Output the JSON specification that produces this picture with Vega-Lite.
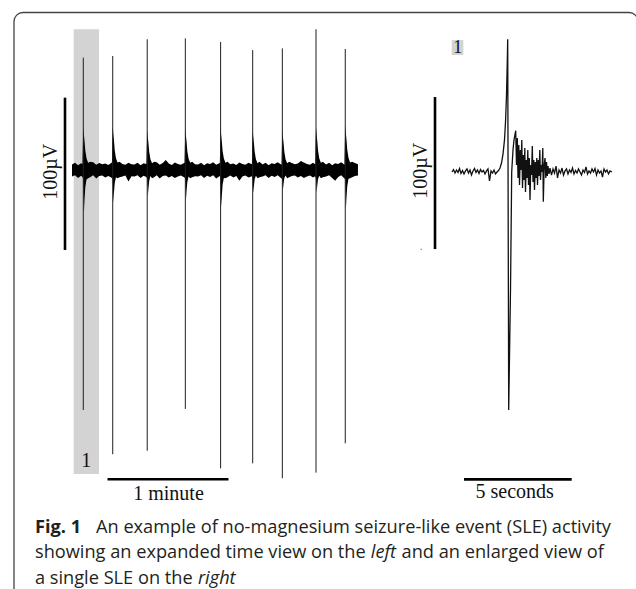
{
  "$schema": "https://vega.github.io/schema/vega-lite/v6.json",
  "width": 636,
  "height": 589,
  "autosize": {"type": "none"},
  "padding": 0,
  "background": "white",
  "config": {"view": {"stroke": null}},
  "datasets": {
    "leftEnvelope": [
      {"t":0,"lo":-4.2,"hi":3.6},{"t":1.5,"lo":-3.5,"hi":4.8},{"t":3,"lo":-5.2,"hi":3.2},{"t":4.5,"lo":-3.8,"hi":4.4},{"t":5.2,"lo":-4.6,"hi":3.9},
      {"t":5.6,"lo":-6,"hi":28.5},{"t":5.9,"lo":-28.3,"hi":23.4},{"t":6.2,"lo":-19.8,"hi":19.4},{"t":6.6,"lo":-11.3,"hi":12.8},{"t":7.2,"lo":-6.2,"hi":7.7},{"t":8.0,"lo":-5.5,"hi":4.8},{"t":9.0,"lo":-4.8,"hi":5.5},
      {"t":10.5,"lo":-3.4,"hi":5.1},{"t":12,"lo":-5.6,"hi":3.4},{"t":13.5,"lo":-4.0,"hi":4.6},{"t":15,"lo":-3.6,"hi":3.8},{"t":16.5,"lo":-4.9,"hi":4.2},{"t":18,"lo":-3.9,"hi":3.3},{"t":19.8,"lo":-5.3,"hi":5.0},
      {"t":20.2,"lo":-6,"hi":28.9},{"t":20.5,"lo":-21.5,"hi":23.7},{"t":20.8,"lo":-15.1,"hi":19.7},{"t":21.2,"lo":-8.6,"hi":13.0},{"t":21.8,"lo":-4.7,"hi":7.8},{"t":22.6,"lo":-5.5,"hi":4.9},{"t":23.6,"lo":-4.8,"hi":5.5},
      {"t":25,"lo":-4.3,"hi":4.0},{"t":26.5,"lo":-3.7,"hi":3.5},{"t":28,"lo":-7.5,"hi":4.7},{"t":29.5,"lo":-4.1,"hi":3.7},{"t":31,"lo":-4.2,"hi":3.6},{"t":32.5,"lo":-3.5,"hi":4.8},{"t":34,"lo":-5.2,"hi":3.2},{"t":35.5,"lo":-3.8,"hi":4.4},{"t":36.9,"lo":-4.6,"hi":3.9},
      {"t":37.3,"lo":-6,"hi":26.3},{"t":37.6,"lo":-17.6,"hi":21.6},{"t":37.9,"lo":-12.3,"hi":17.9},{"t":38.3,"lo":-7.0,"hi":11.8},{"t":38.9,"lo":-3.9,"hi":7.1},{"t":39.7,"lo":-5.5,"hi":4.5},{"t":40.7,"lo":-4.8,"hi":5.5},
      {"t":42,"lo":-3.4,"hi":5.1},{"t":43.5,"lo":-5.6,"hi":3.4},{"t":45,"lo":-4.0,"hi":4.6},{"t":46.5,"lo":-3.6,"hi":6.5},{"t":48,"lo":-4.9,"hi":4.2},{"t":49.5,"lo":-3.9,"hi":3.3},{"t":51,"lo":-5.3,"hi":5.0},{"t":52.5,"lo":-4.3,"hi":4.0},{"t":54,"lo":-3.7,"hi":3.5},{"t":55.8,"lo":-5.0,"hi":4.7},
      {"t":56.2,"lo":-6,"hi":27.6},{"t":56.5,"lo":-19.7,"hi":22.6},{"t":56.8,"lo":-13.8,"hi":18.8},{"t":57.2,"lo":-7.9,"hi":12.4},{"t":57.8,"lo":-4.3,"hi":7.5},{"t":58.6,"lo":-5.5,"hi":4.7},{"t":59.6,"lo":-4.8,"hi":5.5},
      {"t":61,"lo":-4.1,"hi":3.7},{"t":62.5,"lo":-4.2,"hi":3.6},{"t":64,"lo":-3.5,"hi":4.8},{"t":65.5,"lo":-5.2,"hi":3.2},{"t":67,"lo":-3.8,"hi":4.4},{"t":68.5,"lo":-4.6,"hi":3.9},{"t":70,"lo":-3.4,"hi":5.1},{"t":71.5,"lo":-5.6,"hi":3.4},{"t":73.3,"lo":-4.0,"hi":4.6},
      {"t":73.7,"lo":-6,"hi":27.6},{"t":74.0,"lo":-24.1,"hi":22.6},{"t":74.3,"lo":-16.9,"hi":18.8},{"t":74.7,"lo":-9.6,"hi":12.4},{"t":75.3,"lo":-5.3,"hi":7.5},{"t":76.1,"lo":-5.5,"hi":4.7},{"t":77.1,"lo":-4.8,"hi":5.5},
      {"t":78.5,"lo":-3.6,"hi":3.8},{"t":80,"lo":-4.9,"hi":4.2},{"t":81.5,"lo":-3.9,"hi":3.3},{"t":83,"lo":-7.0,"hi":5.0},{"t":84.5,"lo":-4.3,"hi":4.0},{"t":86,"lo":-3.7,"hi":3.5},{"t":87.5,"lo":-5.0,"hi":4.7},{"t":89.2,"lo":-4.1,"hi":3.7},
      {"t":89.6,"lo":-6,"hi":26.3},{"t":89.9,"lo":-15.1,"hi":21.6},{"t":90.2,"lo":-10.6,"hi":17.9},{"t":90.6,"lo":-6.0,"hi":11.8},{"t":91.2,"lo":-3.8,"hi":7.1},{"t":92.0,"lo":-5.5,"hi":4.5},{"t":93.0,"lo":-4.8,"hi":5.5},
      {"t":94.5,"lo":-4.2,"hi":3.6},{"t":96,"lo":-3.5,"hi":4.8},{"t":97.5,"lo":-5.2,"hi":3.2},{"t":99,"lo":-3.8,"hi":4.4},{"t":100.5,"lo":-4.6,"hi":3.9},{"t":102,"lo":-3.4,"hi":5.1},{"t":103.9,"lo":-5.6,"hi":3.4},
      {"t":104.3,"lo":-6,"hi":26.3},{"t":104.6,"lo":-13.2,"hi":21.6},{"t":104.9,"lo":-9.2,"hi":17.9},{"t":105.3,"lo":-5.3,"hi":11.8},{"t":105.9,"lo":-3.6,"hi":7.1},{"t":106.7,"lo":-5.5,"hi":4.5},{"t":107.7,"lo":-4.8,"hi":5.5},
      {"t":109,"lo":-4.0,"hi":4.6},{"t":110.5,"lo":-3.6,"hi":3.8},{"t":112,"lo":-4.9,"hi":4.2},{"t":113.5,"lo":-3.9,"hi":6.0},{"t":115,"lo":-5.3,"hi":5.0},{"t":116.5,"lo":-4.3,"hi":4.0},{"t":118,"lo":-3.7,"hi":3.5},{"t":119.5,"lo":-5.0,"hi":4.7},{"t":120.6,"lo":-4.1,"hi":3.7},
      {"t":121.0,"lo":-6,"hi":28.5},{"t":121.3,"lo":-15.1,"hi":23.4},{"t":121.6,"lo":-10.6,"hi":19.4},{"t":122.0,"lo":-6.0,"hi":12.8},{"t":122.6,"lo":-3.8,"hi":7.7},{"t":123.4,"lo":-5.5,"hi":4.8},{"t":124.4,"lo":-4.8,"hi":5.5},
      {"t":126,"lo":-4.2,"hi":3.6},{"t":127.5,"lo":-3.5,"hi":4.8},{"t":129,"lo":-5.2,"hi":3.2},{"t":130.5,"lo":-7.0,"hi":4.4},{"t":132,"lo":-4.6,"hi":3.9},{"t":133.5,"lo":-3.4,"hi":5.1},{"t":135.1,"lo":-5.6,"hi":3.4},
      {"t":135.5,"lo":-6,"hi":29.6},{"t":135.8,"lo":-26.3,"hi":24.3},{"t":136.1,"lo":-18.4,"hi":20.1},{"t":136.5,"lo":-10.5,"hi":13.3},{"t":137.1,"lo":-5.8,"hi":8.0},{"t":137.9,"lo":-5.5,"hi":5.0},{"t":138.9,"lo":-4.8,"hi":5.5},
      {"t":140.3,"lo":-4.0,"hi":4.6},{"t":141.8,"lo":-3.6,"hi":3.8}
    ],
    "leftSpikes": [
      {"t":5.6,"top":73.9,"bot":-157.9},
      {"t":20.2,"top":75.0,"bot":-187.0},
      {"t":37.3,"top":86.0,"bot":-184.7},
      {"t":56.2,"top":86.6,"bot":-157.2},
      {"t":73.7,"top":84.2,"bot":-196.3},
      {"t":89.6,"top":78.9,"bot":-193.0},
      {"t":104.3,"top":80.0,"bot":-202.8},
      {"t":121.0,"top":92.6,"bot":-199.1},
      {"t":135.5,"top":79.6,"bot":-179.8}
    ],
    "leftHighlight": [{"t1":0.84,"t2":13.39,"v1":-200,"v2":92.6}],
    "leftBars": [
      {"t1":-3.47,"t2":-3.47,"v1":-52.6,"v2":47.6},
      {"t1":17.6,"t2":77.6,"v1":-203.5,"v2":-203.5}
    ],
    "leftLabels": [
      {"t":7.09,"v":-195.2,"label":"1"},
      {"t":47.85,"v":-217.1,"label":"1 minute"}
    ],
    "leftUnit": [{"t":-7.59,"v":-1.1,"label":"100µV"}],
    "rightTrace": [
      {"ts":0,"uvs":0},{"ts":0.0696,"uvs":1.6},{"ts":0.1393,"uvs":-0.7},{"ts":0.2089,"uvs":1.3},{"ts":0.2786,"uvs":-0.3},{"ts":0.3482,"uvs":2.3},{"ts":0.4178,"uvs":-1.0},{"ts":0.4875,"uvs":1.0},{"ts":0.5571,"uvs":-1.3},{"ts":0.6267,"uvs":0.7},{"ts":0.6964,"uvs":2.0},{"ts":0.766,"uvs":-0.7},{"ts":0.8357,"uvs":1.3},{"ts":0.9053,"uvs":-2.0},{"ts":0.9749,"uvs":0.7},{"ts":1.0446,"uvs":2.3},{"ts":1.1142,"uvs":-0.3},{"ts":1.1838,"uvs":1.3},{"ts":1.2535,"uvs":-1.0},{"ts":1.3231,"uvs":1.6},{"ts":1.3928,"uvs":0},{"ts":1.4624,"uvs":1.0},{"ts":1.532,"uvs":-1.3},{"ts":1.6017,"uvs":0.7},{"ts":1.6713,"uvs":2.0},{"ts":1.7409,"uvs":-5.9},{"ts":1.8106,"uvs":0.7},{"ts":1.8802,"uvs":-0.7},{"ts":1.9499,"uvs":1.3},{"ts":2.0195,"uvs":-1.3},{"ts":2.0891,"uvs":0},{"ts":2.1588,"uvs":1.0},
      {"ts":2.2284,"uvs":2.6},{"ts":2.2981,"uvs":5.9},{"ts":2.3677,"uvs":11.8},{"ts":2.4373,"uvs":21.1},{"ts":2.4838,"uvs":32.9},{"ts":2.5302,"uvs":50.7},{"ts":2.5627,"uvs":70.4},{"ts":2.5859,"uvs":87.3},
      {"ts":2.6323,"uvs":-156.6},{"ts":2.7159,"uvs":-77.6},{"ts":2.7716,"uvs":0},
      {"ts":2.8319,"uvs":14.5},{"ts":2.8784,"uvs":21.1},{"ts":2.9573,"uvs":27.2},{"ts":2.9944,"uvs":4.6},{"ts":3.0316,"uvs":22.4},{"ts":3.0641,"uvs":-3.9},{"ts":3.1012,"uvs":17.8},{"ts":3.1337,"uvs":-8.6},{"ts":3.1708,"uvs":14.5},{"ts":3.2033,"uvs":1.3},{"ts":3.2405,"uvs":21.1},{"ts":3.273,"uvs":-10.5},{"ts":3.3101,"uvs":11.2},{"ts":3.3426,"uvs":-5.3},{"ts":3.3798,"uvs":15.8},{"ts":3.4123,"uvs":-13.2},{"ts":3.4494,"uvs":7.9},{"ts":3.4819,"uvs":-3.9},{"ts":3.519,"uvs":14.5},{"ts":3.5515,"uvs":-8.6},{"ts":3.5887,"uvs":9.2},{"ts":3.6212,"uvs":-18.4},{"ts":3.6583,"uvs":4.6},{"ts":3.6908,"uvs":-2.0},{"ts":3.7279,"uvs":17.1},{"ts":3.7604,"uvs":-6.6},{"ts":3.7976,"uvs":7.9},{"ts":3.8301,"uvs":-11.8},{"ts":3.8672,"uvs":6.6},{"ts":3.8997,"uvs":-3.9},{"ts":3.9369,"uvs":9.2},{"ts":3.9694,"uvs":-8.6},{"ts":4.0065,"uvs":7.9},{"ts":4.039,"uvs":-2.6},{"ts":4.0761,"uvs":14.5},{"ts":4.1086,"uvs":-5.3},{"ts":4.1458,"uvs":4.6},{"ts":4.1783,"uvs":0},{"ts":4.2154,"uvs":15.8},{"ts":4.2386,"uvs":-19.5},{"ts":4.2804,"uvs":4.6},{"ts":4.3175,"uvs":9.2},{"ts":4.3547,"uvs":-3.9},{"ts":4.3872,"uvs":6.6},{"ts":4.4243,"uvs":-2.6},{"ts":4.4568,"uvs":3.9},{"ts":4.5032,"uvs":-1.3},
      {"ts":4.5497,"uvs":2.6},{"ts":4.6193,"uvs":-2.0},{"ts":4.689,"uvs":2.0},{"ts":4.7586,"uvs":-0.7},{"ts":4.8282,"uvs":3.9},{"ts":4.8979,"uvs":-3.9},{"ts":4.9675,"uvs":1.3},{"ts":5.0371,"uvs":-0.7},{"ts":5.1068,"uvs":2.6},{"ts":5.1764,"uvs":-2.0},{"ts":5.2461,"uvs":0.7},{"ts":5.3157,"uvs":2.0},{"ts":5.3853,"uvs":-1.3},{"ts":5.455,"uvs":1.3},{"ts":5.5246,"uvs":-0.3},{"ts":5.5942,"uvs":2.6},{"ts":5.6639,"uvs":-1.3},{"ts":5.7335,"uvs":1.0},{"ts":5.8032,"uvs":-0.7},{"ts":5.8728,"uvs":2.0},{"ts":5.9424,"uvs":0},{"ts":6.0121,"uvs":-2.0},{"ts":6.0817,"uvs":1.3},{"ts":6.1513,"uvs":-0.3},{"ts":6.221,"uvs":3.3},{"ts":6.2906,"uvs":-1.3},{"ts":6.3603,"uvs":0.7},{"ts":6.4299,"uvs":-0.7},{"ts":6.4995,"uvs":2.0},{"ts":6.5692,"uvs":0},{"ts":6.6388,"uvs":2.3},{"ts":6.7084,"uvs":-2.0},{"ts":6.7781,"uvs":1.3},{"ts":6.8477,"uvs":-0.7},{"ts":6.9174,"uvs":0.7},{"ts":6.987,"uvs":-3.3},{"ts":7.0566,"uvs":2.0},{"ts":7.1263,"uvs":0},{"ts":7.1959,"uvs":1.3},{"ts":7.2656,"uvs":-1.3},{"ts":7.3352,"uvs":0.7},{"ts":7.4281,"uvs":0}
    ],
    "rightBox": [{"ts1":-0.014,"ts2":0.525,"u1":77.0,"u2":86.8}],
    "rightBars": [
      {"ts1":-0.789,"ts2":-0.789,"u1":-50.7,"u2":49.3},
      {"ts1":0.557,"ts2":5.557,"u1":-202.2,"u2":-202.2}
    ],
    "rightLabels": [
      {"ts":2.911,"uvs":-214.8,"label":"5 seconds","size":20},
      {"ts":0.265,"uvs":78.1,"label":"1","size":18}
    ],
    "rightUnit": [{"ts":-1.175,"uvs":0.8,"label":"100µV"}],
    "rightDot": [{"ts":-1.425,"uvs":-50.9}],
    "frame": [{"px1":2.2,"px2":100.31,"py1":2.12,"py2":103.6}],
    "caption": [
      {"px":5.503,"py":90.49,"text":"Fig. 1","kind":"bold"},
      {"px":15.094,"py":90.49,"text":"An example of no-magnesium seizure-like event (SLE) activity","kind":"normal"},
      {"px":5.503,"py":94.82,"text":"showing an expanded time view on the","kind":"normal"},
      {"px":58.30,"py":94.82,"text":"left","kind":"italic"},
      {"px":63.14,"py":94.82,"text":"and an enlarged view of","kind":"normal"},
      {"px":5.503,"py":99.15,"text":"a single SLE on the","kind":"normal"},
      {"px":31.12,"py":99.15,"text":"right","kind":"italic"}
    ]
  },
  "layer": [
    {
      "layer": [
        {
          "data": {"name": "leftHighlight"},
          "mark": {"type": "rect", "fill": "#d3d3d3"},
          "encoding": {
            "x": {"field": "t1", "type": "quantitative", "axis": null, "scale": {"domain": [-35.70, 279.67], "nice": false, "zero": false}},
            "x2": {"field": "t2"},
            "y": {"field": "v1", "type": "quantitative", "axis": null, "scale": {"domain": [-275.66, 111.84], "nice": false, "zero": false}},
            "y2": {"field": "v2"}
          }
        },
        {
          "data": {"name": "leftEnvelope"},
          "mark": {"type": "area", "color": "#000000"},
          "encoding": {
            "x": {"field": "t", "type": "quantitative", "axis": null},
            "y": {"field": "lo", "type": "quantitative", "axis": null},
            "y2": {"field": "hi"}
          }
        },
        {
          "data": {"name": "leftSpikes"},
          "mark": {"type": "rule", "color": "#1e1e1e", "strokeWidth": 1},
          "encoding": {
            "x": {"field": "t", "type": "quantitative", "axis": null},
            "y": {"field": "bot", "type": "quantitative", "axis": null},
            "y2": {"field": "top"}
          }
        },
        {
          "data": {"name": "leftBars"},
          "mark": {"type": "rule", "color": "#000000", "strokeWidth": 2.6},
          "encoding": {
            "x": {"field": "t1", "type": "quantitative", "axis": null},
            "x2": {"field": "t2"},
            "y": {"field": "v1", "type": "quantitative", "axis": null},
            "y2": {"field": "v2"}
          }
        },
        {
          "data": {"name": "leftLabels"},
          "mark": {"type": "text", "font": "Liberation Serif", "fontSize": 20, "align": "center", "baseline": "alphabetic", "color": "#111111"},
          "encoding": {
            "x": {"field": "t", "type": "quantitative", "axis": null},
            "y": {"field": "v", "type": "quantitative", "axis": null},
            "text": {"field": "label"}
          }
        },
        {
          "data": {"name": "leftUnit"},
          "mark": {"type": "text", "font": "Liberation Serif", "fontSize": 20, "align": "center", "baseline": "alphabetic", "angle": 270, "color": "#111111"},
          "encoding": {
            "x": {"field": "t", "type": "quantitative", "axis": null},
            "y": {"field": "v", "type": "quantitative", "axis": null},
            "text": {"field": "label"}
          }
        }
      ]
    },
    {
      "layer": [
        {
          "data": {"name": "rightBox"},
          "mark": {"type": "rect", "fill": "#d3d3d3"},
          "encoding": {
            "x": {"field": "ts1", "type": "quantitative", "axis": null, "scale": {"domain": [-20.984, 8.542], "nice": false, "zero": false}},
            "x2": {"field": "ts2"},
            "y": {"field": "u1", "type": "quantitative", "axis": null, "scale": {"domain": [-274.34, 113.16], "nice": false, "zero": false}},
            "y2": {"field": "u2"}
          }
        },
        {
          "data": {"name": "rightTrace"},
          "mark": {"type": "line", "color": "#111111", "strokeWidth": 1.3},
          "encoding": {
            "x": {"field": "ts", "type": "quantitative", "axis": null},
            "y": {"field": "uvs", "type": "quantitative", "axis": null}
          }
        },
        {
          "data": {"name": "rightBars"},
          "mark": {"type": "rule", "color": "#000000", "strokeWidth": 2.6},
          "encoding": {
            "x": {"field": "ts1", "type": "quantitative", "axis": null},
            "x2": {"field": "ts2"},
            "y": {"field": "u1", "type": "quantitative", "axis": null},
            "y2": {"field": "u2"}
          }
        },
        {
          "data": {"name": "rightLabels"},
          "mark": {"type": "text", "font": "Liberation Serif", "align": "center", "baseline": "alphabetic", "color": "#111111"},
          "encoding": {
            "x": {"field": "ts", "type": "quantitative", "axis": null},
            "y": {"field": "uvs", "type": "quantitative", "axis": null},
            "text": {"field": "label"},
            "size": {"field": "size", "type": "quantitative", "scale": null, "legend": null}
          }
        },
        {
          "data": {"name": "rightUnit"},
          "mark": {"type": "text", "font": "Liberation Serif", "fontSize": 20, "align": "center", "baseline": "alphabetic", "angle": 270, "color": "#111111"},
          "encoding": {
            "x": {"field": "ts", "type": "quantitative", "axis": null},
            "y": {"field": "uvs", "type": "quantitative", "axis": null},
            "text": {"field": "label"}
          }
        },
        {
          "data": {"name": "rightDot"},
          "mark": {"type": "point", "shape": "square", "filled": true, "size": 2, "color": "#777777"},
          "encoding": {
            "x": {"field": "ts", "type": "quantitative", "axis": null},
            "y": {"field": "uvs", "type": "quantitative", "axis": null}
          }
        }
      ]
    },
    {
      "layer": [
        {
          "data": {"name": "frame"},
          "mark": {"type": "rect", "fill": null, "filled": false, "stroke": "#444444", "strokeWidth": 1.3, "cornerRadius": 9},
          "encoding": {
            "x": {"field": "px1", "type": "quantitative", "axis": null, "scale": {"domain": [0, 100], "nice": false, "zero": false}},
            "x2": {"field": "px2"},
            "y": {"field": "py1", "type": "quantitative", "axis": null, "scale": {"domain": [0, 100], "nice": false, "zero": false, "reverse": true}},
            "y2": {"field": "py2"}
          }
        },
        {
          "data": {"name": "caption"},
          "transform": [{"filter": "datum.kind === 'bold'"}],
          "mark": {"type": "text", "font": "Open Sans", "fontSize": 18.2, "fontWeight": "bold", "align": "left", "baseline": "alphabetic", "color": "#231f20"},
          "encoding": {
            "x": {"field": "px", "type": "quantitative", "axis": null},
            "y": {"field": "py", "type": "quantitative", "axis": null},
            "text": {"field": "text"}
          }
        },
        {
          "data": {"name": "caption"},
          "transform": [{"filter": "datum.kind === 'normal'"}],
          "mark": {"type": "text", "font": "Open Sans", "fontSize": 18.2, "align": "left", "baseline": "alphabetic", "color": "#231f20"},
          "encoding": {
            "x": {"field": "px", "type": "quantitative", "axis": null},
            "y": {"field": "py", "type": "quantitative", "axis": null},
            "text": {"field": "text"}
          }
        },
        {
          "data": {"name": "caption"},
          "transform": [{"filter": "datum.kind === 'italic'"}],
          "mark": {"type": "text", "font": "Open Sans", "fontSize": 18.2, "fontStyle": "italic", "align": "left", "baseline": "alphabetic", "color": "#231f20"},
          "encoding": {
            "x": {"field": "px", "type": "quantitative", "axis": null},
            "y": {"field": "py", "type": "quantitative", "axis": null},
            "text": {"field": "text"}
          }
        }
      ]
    }
  ],
  "resolve": {"scale": {"x": "independent", "y": "independent"}}
}
